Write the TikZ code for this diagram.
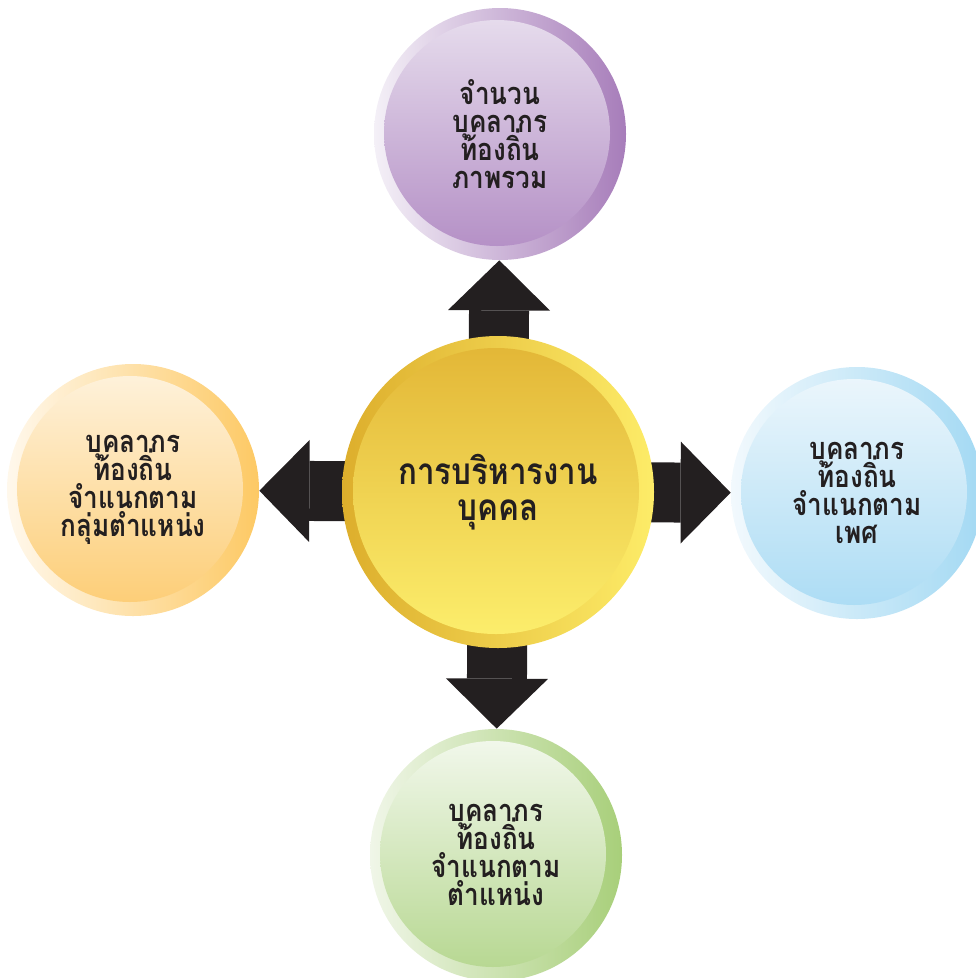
\documentclass[tikz,border=0pt]{standalone}
\usepackage{fontspec}
\newfontfamily\thaifont[Script=Thai, FakeStretch=0.85]{Loma}
\usetikzlibrary{arrows.meta,backgrounds}

% Colores
\definecolor{flecha}{HTML}{231F20}
\definecolor{oroA}{HTML}{DDAE2C}
\definecolor{oroB}{HTML}{FDEC68}
\definecolor{oroC}{HTML}{E2B535}
\definecolor{oroD}{HTML}{FDF06E}
\definecolor{lilaA}{HTML}{F4F0F7}
\definecolor{lilaB}{HTML}{A77DBA}
\definecolor{lilaC}{HTML}{E8DFEE}
\definecolor{lilaD}{HTML}{B28CC4}
\definecolor{naranjaA}{HTML}{FFF8EC}
\definecolor{naranjaB}{HTML}{FDC964}
\definecolor{naranjaC}{HTML}{FEF3DF}
\definecolor{naranjaD}{HTML}{FDCC72}
\definecolor{azulA}{HTML}{F2F9FD}
\definecolor{azulB}{HTML}{A3D9F3}
\definecolor{azulC}{HTML}{EEF7FC}
\definecolor{azulD}{HTML}{A9DBF4}
\definecolor{verdeA}{HTML}{F0F6E8}
\definecolor{verdeB}{HTML}{A8CF7A}
\definecolor{verdeC}{HTML}{F4F9EF}
\definecolor{verdeD}{HTML}{B4D68D}

% Letras de las bolas (renglones apretados)
\newcommand\letrabola{\thaifont\bfseries\fontsize{17.5}{15.8}\selectfont
  \setlength{\lineskiplimit}{-100pt}}
\newcommand\letrahub{\thaifont\bfseries\fontsize{21}{20.8}\selectfont
  \setlength{\lineskiplimit}{-100pt}}

\tikzset{
  bola/.style n args={4}{circle, inner sep=0pt, minimum size=50.4mm,
    left color=#1, right color=#2, text=flecha, align=center,
    path picture={\shade[top color=#3, bottom color=#4]
      ([xshift=-0.6mm,yshift=0.2mm]path picture bounding box.center) circle (22.6mm);},
    font=\letrabola},
  bolagrande/.style n args={4}{circle, inner sep=0pt, minimum size=62.4mm,
    left color=#1, right color=#2, text=flecha, align=center,
    path picture={\shade[top color=#3, bottom color=#4]
      ([xshift=-0.4mm,yshift=0.2mm]path picture bounding box.center) circle (28.6mm);},
    font=\letrahub},
  flechagorda/.style={draw=flecha, line width=12mm,
    -{Triangle[length=10mm, width=20.4mm, line width=0pt]}}
}

\begin{document}
\begin{tikzpicture}[x=0.2mm, y=-0.2mm]
    \useasboundingbox (0,0) rectangle (976,978);

    % Circulo central
    \node[bolagrande={oroA}{oroB}{oroC}{oroD}] (hub) at (498,492)
        {การบริหารงาน\\บุคคล};

    % Circulos exteriores
    \node[bola={lilaA}{lilaB}{lilaC}{lilaD}] (arriba) at (500,134)
        {จำนวน\\บุคลากร\\ท้องถิ่น\\ภาพรวม};
    \node[bola={naranjaA}{naranjaB}{naranjaC}{naranjaD}] (izquierda) at (133,490)
        {บุคลากร\\ท้องถิ่น\\จำแนกตาม\\กลุ่มตำแหน่ง};
    \node[bola={azulA}{azulB}{azulC}{azulD}] (derecha) at (857,493)
        {บุคลากร\\ท้องถิ่น\\จำแนกตาม\\เพศ};
    \node[bola={verdeA}{verdeB}{verdeC}{verdeD}] (abajo) at (496,855)
        {บุคลากร\\ท้องถิ่น\\จำแนกตาม\\ตำแหน่ง};

    % Flechas (detras de los circulos)
    \begin{scope}[on background layer]
        \draw[flechagorda] (hub.center) -- (arriba);
        \draw[flechagorda] (hub.center) -- (izquierda);
        \draw[flechagorda] (hub.center) -- (derecha);
        \draw[flechagorda] (hub.center) -- (abajo);
    \end{scope}
\end{tikzpicture}
\end{document}
